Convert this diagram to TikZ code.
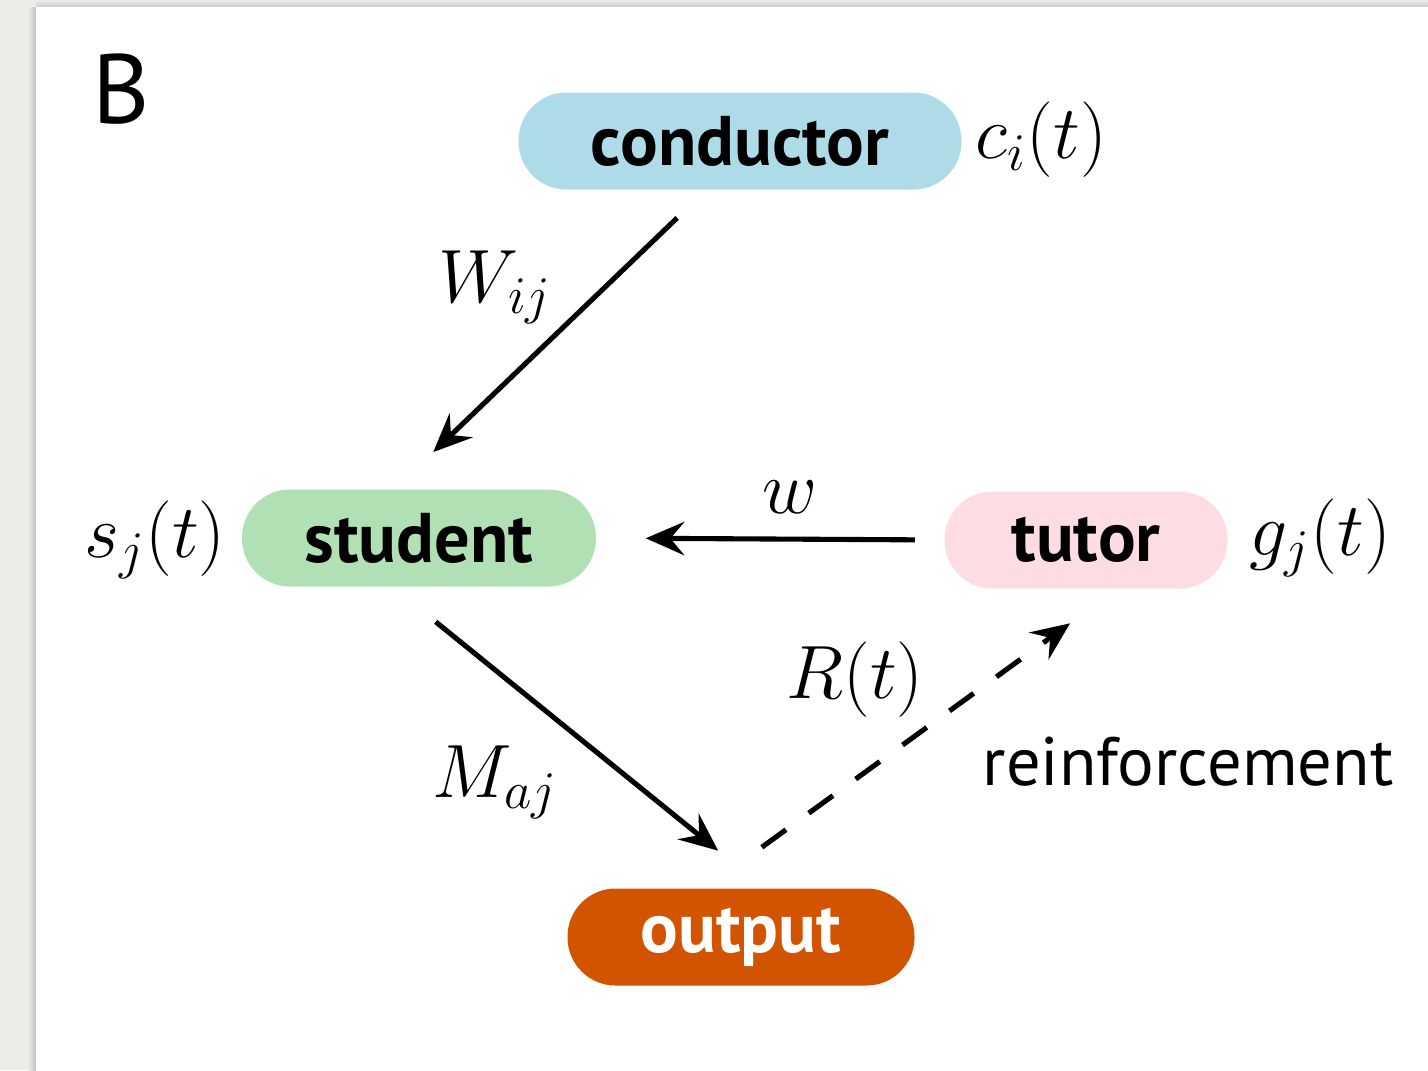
\documentclass[tikz,border=0pt]{standalone}
\usepackage{fix-cm}
\usepackage[no-math]{fontspec}
\setmainfont{PT Sans}
\usetikzlibrary{arrows.meta,positioning}

\definecolor{condblue}{RGB}{173,220,232}
\definecolor{studgreen}{RGB}{178,224,181}
\definecolor{tutpink}{RGB}{253,220,227}
\definecolor{outorange}{RGB}{211,84,0}
\definecolor{paper}{RGB}{237,236,232}

\tikzset{
  pill/.style={rounded corners=0.48cm, minimum height=0.97cm, inner sep=0pt,
    font=\fontsize{20}{24}\selectfont\bfseries},
  var/.style={font=\fontsize{21.5}{24}\selectfont},
  arr/.style={line width=1.45pt, -{Stealth[length=11pt,width=9.5pt,inset=4pt]}},
}

\begin{document}
\begin{tikzpicture}

    \useasboundingbox (0,0) rectangle (14.28,-10.70);
    \fill[paper] (0,0) rectangle (14.28,-10.70);
    \shade[left color=paper, right color=black!25] (0.28,-0.07) rectangle (0.36,-10.70);
    \shade[top color=paper, bottom color=black!20] (0.36,0) rectangle (14.28,-0.07);
    \fill[white] (0.36,-0.07) rectangle (14.28,-10.70);

    \node[font=\fontsize{28}{30}\selectfont] (panel) at (1.21,-0.89) {B};

    % the four boxes
    \node[pill, fill=condblue, minimum width=4.43cm] (conductor) at (7.40,-1.41) {conductor};
    \node[pill, fill=studgreen, minimum width=3.54cm] (student) at (4.19,-5.38) {student};
    \node[pill, fill=tutpink, minimum width=2.83cm] (tutor) at (10.86,-5.40) {tutor};
    \node[pill, fill=outorange, text=white, minimum width=3.47cm] (output) at (7.41,-9.37) {output};

    % activities
    \node[var] (ci) at (10.41,-1.40) {$c_i(t)$};
    \node[var] (sj) at (1.55,-5.40) {$s_j(t)$};
    \node[var] (gj) at (13.20,-5.38) {$g_j(t)$};

    % connections
    \draw[arr, shorten <=0.40cm, shorten >=0.53cm]
        ([xshift=-0.34cm]conductor.south) -- ([xshift=-0.24cm]student.north);
    \draw[arr, shorten <=0.29cm, shorten >=0.49cm] (tutor.west) -- (student.east);
    \draw[arr, shorten <=0.55cm, shorten >=0.59cm]
        ([xshift=-0.26cm]student.south) -- ([xshift=0.23cm]output.north);
    \draw[arr, dash pattern=on 8.5pt off 8pt, shorten <=0.69cm, shorten >=0.58cm]
        ([xshift=-0.35cm]output.north) -- ([xshift=0.31cm]tutor.south);

    \node[var] (Wlab) at (4.95,-2.87) {$W_{ij}$};
    \node[var] (wlab) at (7.90,-4.97) {$w$};
    \node[var] (Mlab) at (4.95,-7.82) {$M_{aj}$};
    \node[var] (Rlab) at (8.55,-6.80) {$R(t)$};
    \node[font=\fontsize{19.5}{24}\selectfont] (reinf) at (11.88,-7.62) {reinforcement};

\end{tikzpicture}
\end{document}
